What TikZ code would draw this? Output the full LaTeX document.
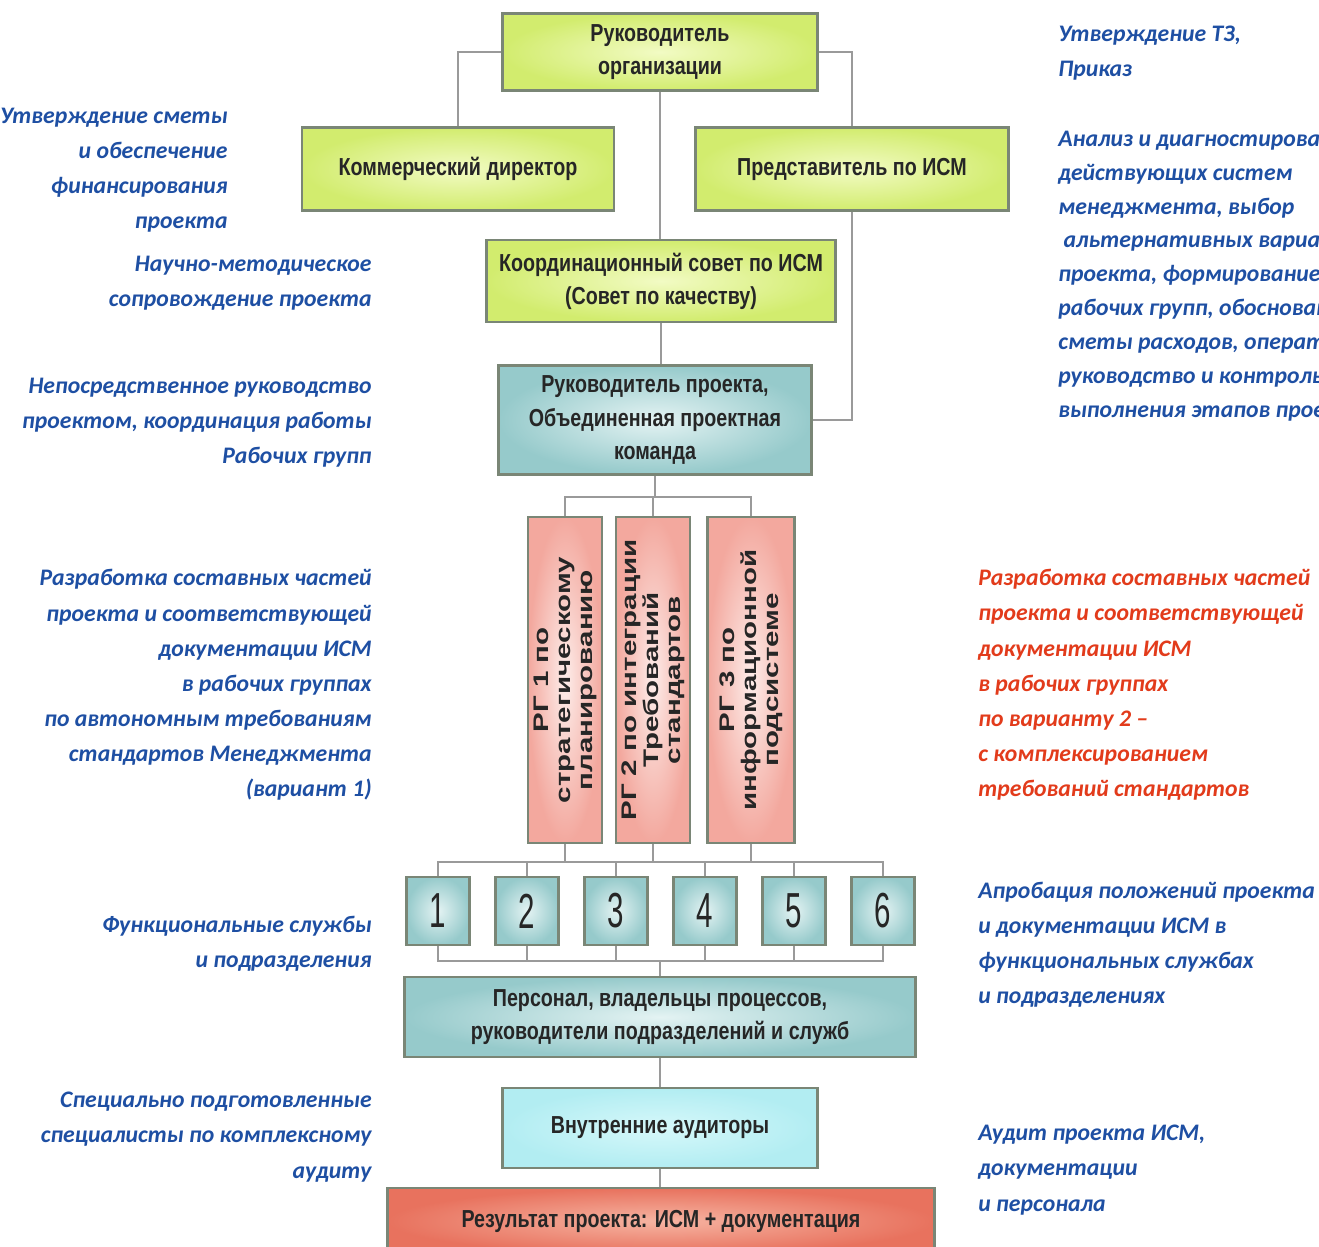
\documentclass[tikz,border=0pt]{standalone}
\usepackage{fontspec}
\setmainfont{Carlito}
\newfontfamily\boxfont{Liberation Sans}[FakeStretch=0.8]
\newfontfamily\numfont{Liberation Sans}[FakeStretch=0.6]
\newfontfamily\rgfont{Liberation Sans}[FakeStretch=1.4]
\usetikzlibrary{positioning}

\definecolor{limeout}{HTML}{D2EC6E}
\definecolor{limein}{HTML}{F2FBC4}
\definecolor{tealout}{HTML}{96CACB}
\definecolor{tealin}{HTML}{E4F3F3}
\definecolor{pinkout}{HTML}{F3A89E}
\definecolor{pinkin}{HTML}{FDEDEA}
\definecolor{cyanout}{HTML}{B2EDF2}
\definecolor{cyanin}{HTML}{D6F8FA}
\definecolor{redout}{HTML}{E8725E}
\definecolor{redin}{HTML}{F6B4A2}
\definecolor{edgegray}{HTML}{9A9A9A}
\definecolor{framegray}{HTML}{7A8676}
\definecolor{noteblue}{HTML}{1E4FA3}
\definecolor{notered}{HTML}{E23B1B}

\tikzset{
  unitbox/.style={draw=framegray, line width=1.3pt, align=center, inner sep=2pt,
    text=black!85, font=\boxfont\bfseries\fontsize{14}{18.8}\selectfont},
  limebox/.style={unitbox, inner color=limein, outer color=limeout},
  tealbox/.style={unitbox, inner color=tealin, outer color=tealout},
  cyanbox/.style={unitbox, inner color=cyanin, outer color=cyanout},
  redbox/.style={unitbox, inner color=redin, outer color=redout},
  rgbox/.style={unitbox, inner color=pinkin, outer color=pinkout, rotate=90,
    minimum width=6.52cm, font=\rgfont\bfseries\fontsize{12}{12.5}\selectfont},
  numbox/.style={unitbox, inner color=tealin, outer color=tealout,
    minimum width=1.26cm, minimum height=1.36cm, font=\numfont\fontsize{28}{28}\selectfont},
  conn/.style={draw=edgegray, line width=1.2pt},
  notel/.style={anchor=east, align=right, inner sep=0pt, text=noteblue,
    font=\bfseries\itshape\fontsize{13.5}{20}\selectfont},
  noter/.style={anchor=west, align=left, inner sep=0pt, text=noteblue,
    font=\bfseries\itshape\fontsize{13.5}{20}\selectfont}
}

\begin{document}
\begin{tikzpicture}[x=0.02cm, y=-0.02cm]
\useasboundingbox (0,0) rectangle (1319,1247);
% management
\node[limebox, minimum width=6.3cm, minimum height=1.54cm] (org) at (660,52) {Руководитель\\организации};
\node[limebox, minimum width=6.24cm, minimum height=1.66cm] (kom) at (458,169) {Коммерческий директор};
\node[limebox, minimum width=6.26cm, minimum height=1.66cm] (pred) at (852,169) {Представитель по ИСМ};
\node[limebox, minimum width=6.98cm, minimum height=1.64cm] (sovet) at (661,281) {Координационный совет по ИСМ\\(Совет по качеству)};
\node[tealbox, minimum width=6.26cm, minimum height=2.18cm] (ruk) at (655,420) {Руководитель проекта,\\Объединенная проектная\\команда};
% working groups
\node[rgbox, minimum height=1.48cm] (rg1) at (565,680) {РГ 1 по\\стратегическому\\планированию};
\node[rgbox, minimum height=1.48cm] (rg2) at (653,680) {РГ 2 по интеграции\\Требований\\стандартов};
\node[rgbox, minimum height=1.74cm] (rg3) at (751,680) {РГ 3 по\\информационной\\подсистеме};
% departments
\foreach \i in {1,...,6}
{
	\node[numbox] (d\i) at ({438+89*(\i-1)},911) {\i};
}
\node[tealbox, minimum width=10.22cm, minimum height=1.6cm] (pers) at (660,1017) {Персонал, владельцы процессов,\\руководители подразделений и служб};
\node[cyanbox, minimum width=6.3cm, minimum height=1.6cm] (aud) at (660,1128) {Внутренние аудиторы};
\node[redbox, minimum width=10.94cm, minimum height=1.32cm] (res) at (661,1221) {Результат проекта: ИСМ + документация};

% connectors
\draw[conn] (org.west) -| (kom.north);
\draw[conn] (org.east) -| (pred.north);
\draw[conn] (org.south) -- (org.south |- sovet.north);
\draw[conn] (sovet.south) -- (sovet.south |- ruk.north);
\draw[conn] (pred.south) |- (ruk.east);
\coordinate (busrg) at (655,497);
\draw[conn] (ruk.south) -- (busrg);
\draw[conn] (rg1.east) |- (busrg) -| (rg3.east);
\draw[conn] (rg2.east) -- (rg2.east |- busrg);
\coordinate (busd) at (660,862);
\draw[conn] (d1.north) |- (busd) -| (d6.north);
\foreach \i in {2,...,5}
	\draw[conn] (d\i.north) -- (d\i.north |- busd);
\foreach \i in {1,2,3}
	\draw[conn] (rg\i.west) -- (rg\i.west |- busd);
\coordinate (buspers) at (660,961);
\draw[conn] (d1.south) |- (buspers) -| (d6.south);
\foreach \i in {2,...,5}
	\draw[conn] (d\i.south) -- (d\i.south |- buspers);
\draw[conn] (buspers) -- (pers.north);
\draw[conn] (pers.south) -- (aud.north);
\draw[conn] (aud.south) -- (aud.south |- res.north);

% notes, left
\node[notel] (nsmeta) at (228,170) {Утверждение сметы\\и обеспечение\\финансирования\\проекта};
\node[notel] (nnauka) at (372,283) {Научно-методическое\\сопровождение проекта};
\node[notel] (nruk) at (372,423) {Непосредственное руководство\\проектом, координация работы\\Рабочих групп};
\node[notel] (nvar1) at (372,685) {Разработка составных частей\\проекта и соответствующей\\документации ИСМ\\в рабочих группах\\по автономным требованиям\\стандартов Менеджмента\\(вариант 1)};
\node[notel] (nsluzh) at (372,944) {Функциональные службы\\и подразделения};
\node[notel] (nspec) at (372,1137) {Специально подготовленные\\специалисты по комплексному\\аудиту};
% notes, right
\node[noter] (ntz) at (1058,53) {Утверждение ТЗ,\\Приказ};
\node[noter, font=\bfseries\itshape\fontsize{13.5}{19.3}\selectfont] (nanaliz) at (1058,276) {Анализ и диагностирование\\действующих систем\\менеджмента, выбор\\\ альтернативных вариантов\\проекта, формирование\\рабочих групп, обоснование\\сметы расходов, оперативное\\руководство и контроль\\выполнения этапов проекта};
\node[noter, text=notered] (nvar2) at (978,685) {Разработка составных частей\\проекта и соответствующей\\документации ИСМ\\в рабочих группах\\по варианту 2 –\\с комплексированием\\требований стандартов};
\node[noter] (naprob) at (978,945) {Апробация положений проекта\\и документации ИСМ в\\функциональных службах\\и подразделениях};
\node[noter] (naudit) at (978,1170) {Аудит проекта ИСМ,\\документации\\и персонала};
\end{tikzpicture}
\end{document}
